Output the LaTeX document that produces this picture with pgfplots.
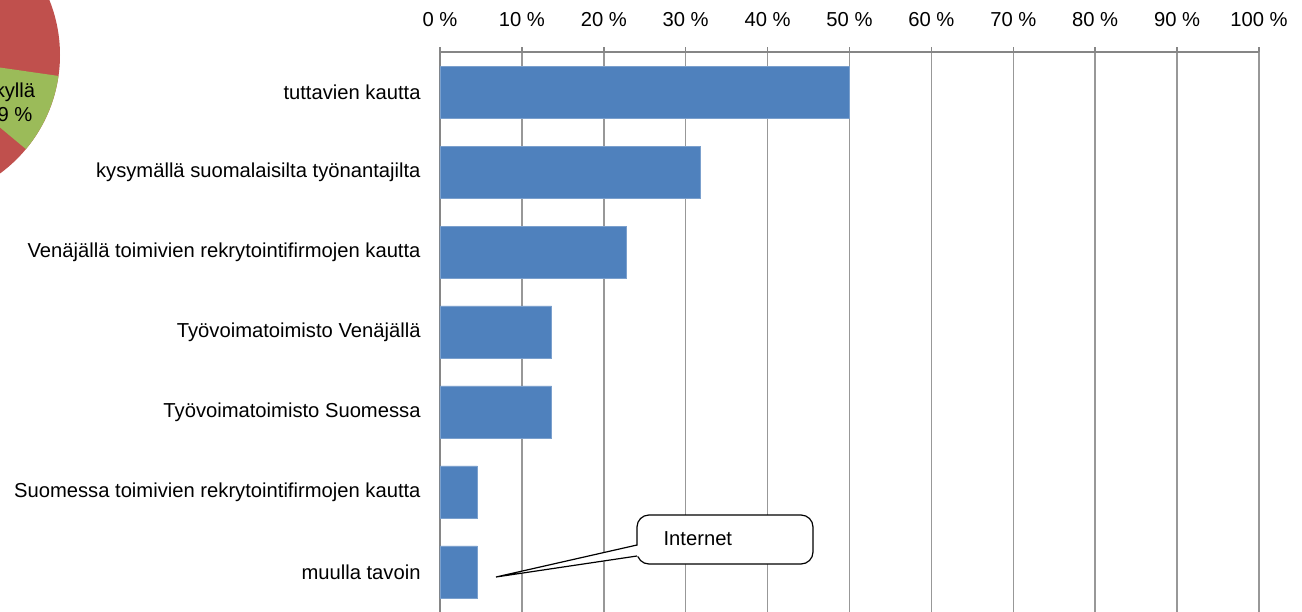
\documentclass[border=0pt]{standalone}
\usepackage{pgfplots}
\pgfplotsset{compat=1.18}
\usepackage{fontspec}
\setmainfont{Liberation Sans}
\definecolor{barblue}{HTML}{4F81BD}
\definecolor{gridgray}{HTML}{989898}
\definecolor{axgray}{HTML}{868686}
\definecolor{pred}{HTML}{C0504D}
\definecolor{pgreen}{HTML}{9BBB59}
\begin{document}
\begin{tikzpicture}
\path[use as bounding box] (0,0) rectangle (651pt,-305.5pt);
\begin{scope}
\clip (0,0) rectangle (651pt,-305.5pt);
% partial pie chart (cropped, from neighbouring figure)
\fill[pred] (-43.5pt,-27.5pt) circle (73.5pt);
\fill[pgreen] (-43.5pt,-27.5pt) -- ++(-39.8:73.5pt) arc (-39.8:-8.2:73.5pt) -- cycle;
\node[anchor=base, inner sep=0pt, font=\fontsize{10.1pt}{12pt}\selectfont] at (7.5pt,-48.5pt) {kyllä};
\node[anchor=base, inner sep=0pt, font=\fontsize{10.1pt}{12pt}\selectfont] at (7.5pt,-60.5pt) {9 \%};
\begin{axis}[
  at={(220pt,-26pt)}, anchor=north west,
  scale only axis, width=409.5pt, height=280pt,
  xbar, bar width=26pt, bar shift=0pt,
  xmin=0, xmax=100, ymin=-0.5, ymax=6.5,
  axis x line*=top, axis y line*=left,
  axis line style={axgray, line width=0.75pt},
  xtick={0,10,...,100},
  xticklabel={\pgfmathprintnumber{\tick}~\%},
  xmajorgrids, grid style={gridgray, line width=0.75pt},
  ytick={0,...,6},
  yticklabels={muulla tavoin, Suomessa toimivien rekrytointifirmojen kautta, Työvoimatoimisto Suomessa, Työvoimatoimisto Venäjällä, Venäjällä toimivien rekrytointifirmojen kautta, kysymällä suomalaisilta työnantajilta, tuttavien kautta},
  minor ytick={-0.5,0.5,...,6.5},
  tick align=outside,
  major tick length=2.5pt, minor tick length=2.5pt,
  tick style={axgray, line width=0.75pt},
  ytick style={draw=none},
  minor y tick style={axgray, line width=0.75pt},
  ticklabel style={font=\fontsize{10.1pt}{12pt}\selectfont},
  /pgf/number format/assume math mode=true,
  yticklabel style={anchor=east, xshift=-3.7pt},
  xticklabel style={anchor=base, yshift=10.5pt},
  clip=false,
]
\addplot[fill=barblue, draw=barblue!75!white, line width=0.4pt] coordinates {(4.55,0) (4.55,1) (13.64,2) (13.64,3) (22.73,4) (31.82,5) (50,6)};
\end{axis}
% callout
\begin{scope}[line width=0.6pt]
\draw[fill=white, rounded corners=6pt] (318.5pt,-257.5pt) rectangle (406.5pt,-282pt);
\fill[white] (320pt,-272.5pt) -- (248pt,-288.5pt) -- (320pt,-278pt) -- cycle;
\draw (318.5pt,-272.5pt) -- (248pt,-288.5pt) -- (318.5pt,-278pt);
\node[anchor=base west, inner sep=0pt, font=\fontsize{10.1pt}{12pt}\selectfont] at (331.5pt,-272.5pt) {Internet};
\end{scope}
\end{scope}
\end{tikzpicture}
\end{document}
